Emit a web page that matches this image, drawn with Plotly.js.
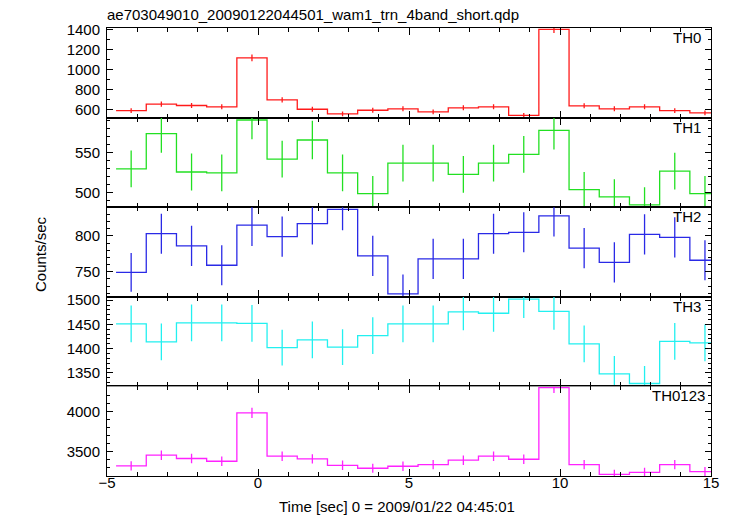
<!DOCTYPE html>
<html>
<head>
<meta charset="utf-8">
<script src="https://cdn.plot.ly/plotly-3.0.1.min.js"></script>
<style>html,body{margin:0;padding:0;background:#fff;}#chart{width:733px;height:516px;}</style>
</head>
<body>
<div id="chart"></div>
<script>
// Bin centres (sec), 1-s bins
const times = [-4.2, -3.2, -2.2, -1.2, -0.2, 0.8, 1.8, 2.8, 3.8, 4.8, 5.8, 6.8, 7.8, 8.8, 9.8, 10.8, 11.8, 12.8, 13.8, 14.8];
const binWidth = 1.0;

const bandNames = ["TH0", "TH1", "TH2", "TH3", "TH0123"];

const th0     = [593, 656, 643, 630, 1116, 700, 606, 560, 596, 610, 580, 620, 630, 546, 1400, 640, 610, 630, 593, 570];
const th0Err  = [24, 26, 25, 25, 33, 26, 25, 24, 24, 25, 24, 25, 25, 23, 37, 25, 25, 25, 24, 24];
const th1     = [530, 574, 526, 525, 591, 542, 566, 525, 499, 537, 537, 523, 537, 548, 578, 504, 495, 485, 527, 499];
const th1Err  = [23, 24, 23, 23, 24, 23, 24, 23, 22, 23, 23, 23, 23, 23, 24, 22, 22, 22, 23, 22];
const th2     = [749, 803, 786, 759, 815, 799, 817, 837, 772, 719, 768, 768, 803, 805, 828, 783, 763, 802, 798, 766];
const th2Err  = [27, 28, 28, 28, 29, 28, 29, 29, 28, 27, 28, 28, 28, 28, 29, 28, 28, 28, 28, 28];
const th3     = [1451, 1414, 1453, 1453, 1452, 1402, 1418, 1403, 1427, 1451, 1451, 1476, 1473, 1502, 1477, 1410, 1348, 1328, 1415, 1412];
const th3Err  = [38, 38, 38, 38, 38, 37, 38, 37, 38, 38, 38, 38, 38, 39, 38, 38, 37, 36, 38, 38];
const th0123    = [3325, 3458, 3417, 3383, 3983, 3446, 3412, 3333, 3296, 3321, 3342, 3396, 3446, 3408, 4296, 3342, 3221, 3246, 3342, 3254];
const th0123Err = [58, 59, 58, 58, 63, 59, 58, 58, 57, 58, 58, 58, 59, 58, 66, 58, 57, 57, 58, 57];

const yRanges = [[523, 1413], [482, 594], [715, 840], [1322, 1507], [3200, 4312]];
const yDticks = [200, 50, 50, 50, 500];
const yMinor  = [100, 10, 10, 10, 100];

const series = [th0, th1, th2, th3, th0123];
const errors = [th0Err, th1Err, th2Err, th3Err, th0123Err];
const colors = ["#ff1a1a", "#22e022", "#2a2ae6", "#22f0f0", "#ff22ff"];

const FONT = "Liberation Sans, Arial, Helvetica, sans-serif";
const traces = [];
const layout = {
  width: 733, height: 516,
  margin: {l: 107, r: 22, t: 28, b: 40},
  paper_bgcolor: "#fff", plot_bgcolor: "#fff",
  showlegend: false,
  font: {family: FONT, size: 15, color: "#000"},
  title: {
    text: "ae703049010_20090122044501_wam1_trn_4band_short.qdp",
    x: 0, xref: "paper", xanchor: "left",
    y: 0.972, yref: "container", yanchor: "middle",
    font: {family: FONT, size: 15, color: "#000"}
  },
  annotations: []
};

const nPanels = series.length;
for (let i = 0; i < nPanels; i++) {
  const k = i + 1;
  const xa = "x" + k, ya = "y" + k;
  const vals = series[i];
  // step outline from bin edges
  const xs = times.map(t => t - binWidth / 2);
  xs.push(times[times.length - 1] + binWidth / 2);
  const ys = vals.slice();
  ys.push(vals[vals.length - 1]);
  traces.push({
    type: "scatter", mode: "lines", x: xs, y: ys,
    line: {shape: "hv", color: colors[i], width: 1.3},
    xaxis: xa, yaxis: ya, hoverinfo: "skip"
  });
  traces.push({
    type: "scatter", mode: "markers", x: times, y: vals,
    marker: {size: 1, color: "rgba(0,0,0,0)"},
    error_y: {type: "data", array: errors[i], visible: true, width: 0, thickness: 1.3, color: colors[i]},
    xaxis: xa, yaxis: ya, hoverinfo: "skip"
  });
  const top = 1 - 0.2 * i, bot = top - 0.2;
  layout["xaxis" + (k === 1 ? "" : k)] = {
    domain: [0, 1], anchor: ya, range: [-5, 15],
    showline: true, linecolor: "#000", linewidth: 1, mirror: "ticks",
    ticks: "inside", ticklen: 7, tickcolor: "#000", dtick: 5, tick0: 0,
    minor: {dtick: 1, ticks: "inside", ticklen: 4, tickcolor: "#000", showgrid: false},
    showgrid: false, zeroline: false,
    showticklabels: i === nPanels - 1,
    tickfont: {family: FONT, size: 15, color: "#000"},
    ticklabelstandoff: -7,
    matches: i === 0 ? undefined : "x"
  };
  layout["yaxis" + (k === 1 ? "" : k)] = {
    domain: [bot, top], anchor: xa, range: yRanges[i],
    showline: true, linecolor: "#000", linewidth: 1, mirror: "ticks",
    ticks: "inside", ticklen: 6, tickcolor: "#000", dtick: yDticks[i], tick0: 0,
    minor: {dtick: yMinor[i], ticks: "inside", ticklen: 3, tickcolor: "#000", showgrid: false},
    showgrid: false, zeroline: false,
    tickfont: {family: FONT, size: 15, color: "#000"},
    ticklabelstandoff: 3
  };
  layout.annotations.push({
    text: bandNames[i], xref: "paper", yref: "paper",
    x: 1, y: top, xanchor: "right", yanchor: "top",
    xshift: i === nPanels - 1 ? -4 : -8, yshift: 1,
    showarrow: false, font: {family: FONT, size: 15, color: "#000"}
  });
}
layout.annotations.push({
  text: "Time [sec] 0 = 2009/01/22 04:45:01", xref: "paper", yref: "paper",
  x: (397 - 107) / 604, y: -30 / 448, xanchor: "center", yanchor: "middle",
  showarrow: false, font: {family: FONT, size: 15, color: "#000"}
});
layout.annotations.push({
  text: "Counts/sec", xref: "paper", yref: "paper",
  x: (40 - 107) / 604, y: 0.4955, xanchor: "center", yanchor: "middle",
  textangle: -90, showarrow: false, font: {family: FONT, size: 15, color: "#000"}
});

Plotly.newPlot("chart", traces, layout, {displayModeBar: false, staticPlot: true});
</script>
</body>
</html>
